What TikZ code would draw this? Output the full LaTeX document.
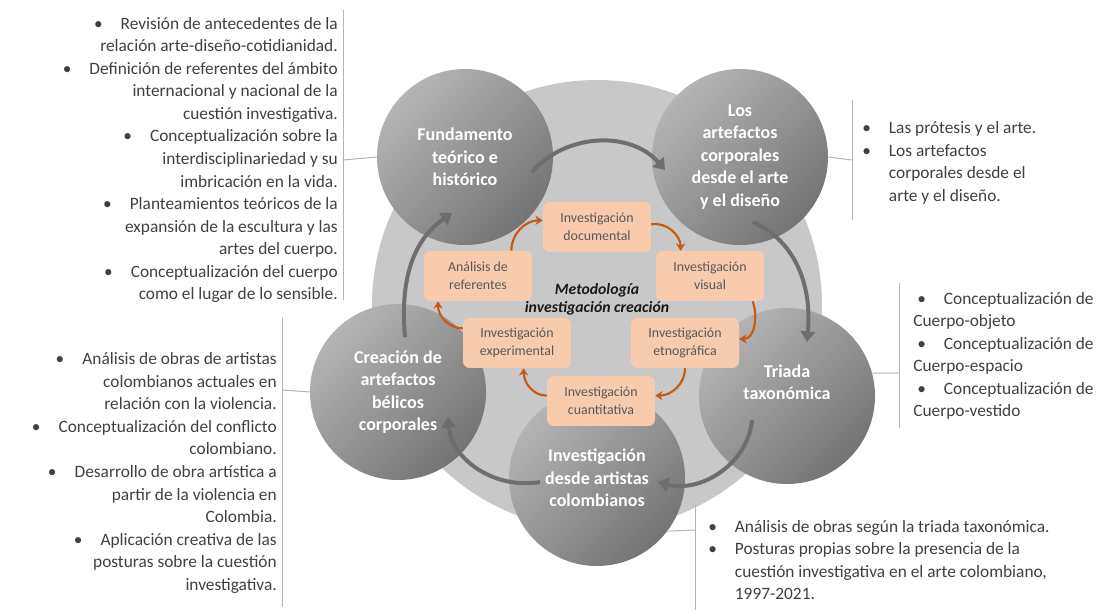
\documentclass[tikz,border=0pt]{standalone}
\usepackage{fontspec}
\setmainfont{Carlito}
\usetikzlibrary{arrows.meta, calc, positioning}
\definecolor{bigbg}{HTML}{C8C8C8}
\definecolor{ringlight}{HTML}{B4B4B4}
\definecolor{ringdark}{HTML}{747474}
\definecolor{peach}{HTML}{F8CBAD}
\definecolor{rust}{HTML}{C55A11}
\definecolor{txt}{HTML}{404040}
\definecolor{boxtxt}{HTML}{595959}
\definecolor{barline}{HTML}{B4B4B4}
\definecolor{arrowgray}{HTML}{6E6E6E}
\newcommand{\bul}{\makebox[20pt][l]{\textbullet}}
\newcommand{\hang}{\hspace*{20pt}}

\begin{document}
\begin{tikzpicture}[x=0.75pt, y=0.75pt,
    stage/.style={circle, minimum size=132pt, inner sep=0pt, top color=ringlight, bottom color=ringdark, shading angle=45, text=white, align=center, font=\fontsize{13.5}{16.9}\selectfont\bfseries},
    method/.style={rectangle, rounded corners=5pt, fill=peach, minimum width=81pt, minimum height=37.5pt, inner sep=0pt, text=boxtxt, align=center, font=\fontsize{10.4}{13.5}\selectfont},
    note/.style={inner sep=0pt, text=txt, font=\fontsize{13}{16.9}\selectfont},
    bar/.style={draw=barline, line width=0.75pt},
    turn/.style={draw=arrowgray, line width=3pt, -{Triangle[length=8pt,width=11pt]}},
    flow/.style={draw=rust, line width=1.6pt, -{Stealth[length=5.5pt,width=7pt]}}]
    \useasboundingbox (0,0) rectangle (1105,610);

    % big light disc behind everything
    \fill[bigbg] (597,305) circle[radius=225];

    % the five stages
    \node[stage] (fund) at (465,453) {Fundamento\\teórico e\\histórico};
    \node[stage] (art) at (740,453) {Los\\artefactos\\corporales\\desde el arte\\y el diseño};
    \node[stage] (tri) at (787,214) {Triada\\taxonómica\\[4pt]};
    \node[stage] (inv) at (597,132) {Investigación\\desde artistas\\colombianos};
    \node[stage] (crea) at (398,218) {Creación de\\artefactos\\bélicos\\corporales};

    % arrows between stages
    \draw[turn] ([shift={(67,-15)}]fund.center) to[out=49, in=131] ([shift={(-75,-13)}]art.center);
    \draw[turn] ([shift={(13,-65)}]art.center) to[out=-25, in=85] ([shift={(20,54)}]tri.center);
    \draw[turn] ([shift={(-35,-24)}]tri.center) to[out=-95, in=-15] ([shift={(61,-4)}]inv.center);
    \draw[turn] ([shift={(-57,-4)}]inv.center) to[out=-170, in=-85] ([shift={(50,-25)}]crea.center);
    \draw[turn] ([shift={(7,55)}]crea.center) to[out=95, in=215] ([shift={(-13,-56)}]fund.center);

    % methods
    \node[method] (doc) at (597,383) {Investigación\\documental};
    \node[method] (vis) at (710,334) {Investigación\\visual};
    \node[method] (etn) at (685,267) {Investigación\\etnográfica};
    \node[method] (cua) at (601,209) {Investigación\\cuantitativa};
    \node[method] (expe) at (517,267) {Investigación\\experimental};
    \node[method] (refs) at (478,334) {Análisis de\\referentes};

    \draw[flow] ([xshift=25]refs.north) to[out=90, in=180] ([yshift=5]doc.west);
    \draw[flow] ([yshift=2]doc.east) to[out=10, in=90] ([xshift=-22]vis.north);
    \draw[flow] ([xshift=32]vis.south) to[out=-70, in=0] ([yshift=3]etn.east);
    \draw[flow] (etn.south) to[out=-90, in=0] ([yshift=4]cua.east);
    \draw[flow] ([yshift=4]cua.west) to[out=180, in=-90] ([xshift=5]expe.south);
    \draw[flow] ([yshift=11]expe.west) to[out=180, in=-90] ([xshift=-30]refs.south);

    \node[font=\fontsize{11.8}{13.5}\selectfont\bfseries\itshape, text=black!90, align=center] (meth) at (597,311) {Metodología\\investigación creación};

    % notes and their brackets
    \coordinate (tlbar) at (343,450);
    \coordinate (rtbar) at (852,450);
    \coordinate (blbar) at (282,220);
    \coordinate (trbar) at (899,237);
    \coordinate (brbar) at (695,80);
    \draw[bar] (tlbar) ++(0,150) -- ++(0,-290);
    \draw[bar] (rtbar) ++(0,60) -- ++(0,-120);
    \draw[bar] (blbar) ++(0,72) -- ++(0,-289);
    \draw[bar] (trbar) ++(0,90) -- ++(0,-145);
    \draw[bar] (brbar) ++(0,25) -- ++(0,-105);
    \draw[bar] (fund.west) -- (tlbar);
    \draw[bar] (art.east) -- (rtbar);
    \draw[bar] (crea.west) -- (blbar);
    \draw[bar] (tri.15) -- (trbar);
    \draw[bar] (inv.-37) -- (brbar);

    \node[note, anchor=east, align=right] (tlnote) at (338,450) {\bul Revisión de antecedentes de la\\relación arte-diseño-cotidianidad.\\\bul Definición de referentes del ámbito\\internacional y nacional de la\\cuestión investigativa.\\\bul Conceptualización sobre la\\interdisciplinariedad y su\\imbricación en la vida.\\\bul Planteamientos teóricos de la\\expansión de la escultura y las\\artes del cuerpo.\\\bul Conceptualización del cuerpo\\como el lugar de lo sensible.};
    \node[note, anchor=east, align=right] (blnote) at (277,137) {\bul Análisis de obras de artistas\\colombianos actuales en\\relación con la violencia.\\\bul Conceptualización del conflicto\\colombiano.\\\bul Desarrollo de obra artística a\\partir de la violencia en\\Colombia.\\\bul Aplicación creativa de las\\posturas sobre la cuestión\\investigativa.};
    \node[note, anchor=west, align=left] (rtnote) at (862,447) {\bul Las prótesis y el arte.\\\bul Los artefactos\\\hang corporales desde el\\\hang arte y el diseño.};
    \node[note, anchor=west, align=left] (trnote) at (913,254) {\hspace*{3pt}\bul Conceptualización de\\Cuerpo-objeto\\\hspace*{3pt}\bul Conceptualización de\\Cuerpo-espacio\\\hspace*{3pt}\bul Conceptualización de\\Cuerpo-vestido};
    \node[note, anchor=west, align=left] (brnote) at (708,50) {\bul Análisis de obras según la triada taxonómica.\\\bul Posturas propias sobre la presencia de la\\\hang cuestión investigativa en el arte colombiano,\\\hang 1997-2021.};
\end{tikzpicture}
\end{document}
